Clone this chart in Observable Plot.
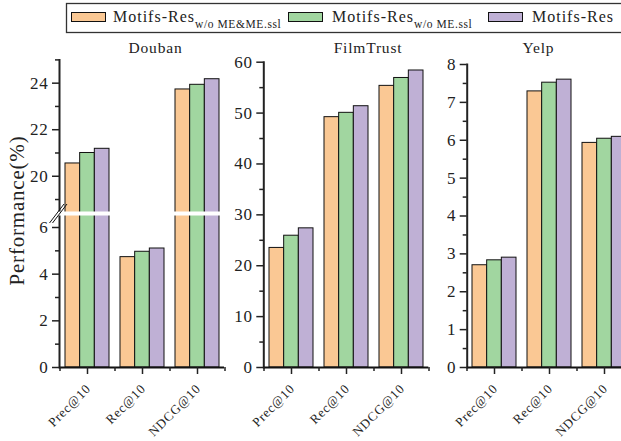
<!DOCTYPE html>
<html>
<head>
<meta charset="utf-8">
<script src="https://cdn.jsdelivr.net/npm/d3@7"></script>
<script src="https://cdn.jsdelivr.net/npm/@observablehq/plot@0.6"></script>
<style>
  body { margin: 0; background: #fff; }
  #root { position: relative; width: 621px; height: 441px; overflow: hidden; background: #fff; }
  #root svg.panel { position: absolute; left: 0; top: 36px; }
</style>
</head>
<body>
<div id="root"></div>
<script>
// ---------- data ----------
const metrics = ["Prec@10", "Rec@10", "NDCG@10"];
const seriesMain = ["Motifs-Res", "Motifs-Res", "Motifs-Res"];
const seriesSub = ["w/o ME&ME.ssl", "w/o ME.ssl", ""];
const seriesColors = ["#FAC894", "#A1D6A0", "#BFB0D5"];

const doubanNoMEME = [20.55, 4.73, 23.73];
const doubanNoME   = [21.00, 4.96, 23.93];
const doubanFull   = [21.18, 5.10, 24.17];

const filmNoMEME = [23.5, 49.2, 55.35];
const filmNoME   = [25.9, 50.05, 56.9];
const filmFull   = [27.35, 51.35, 58.37];

const yelpNoMEME = [2.70, 7.29, 5.93];
const yelpNoME   = [2.83, 7.52, 6.04];
const yelpFull   = [2.90, 7.60, 6.09];

const doubanMajor = [0, 2, 4, 6, 20, 22, 24];
const doubanMinor = [1, 3, 5, 19, 21, 23, 25];
const filmMajor = [0, 10, 20, 30, 40, 50, 60];
const filmMinor = [5, 15, 25, 35, 45, 55];
const yelpMajor = [0, 1, 2, 3, 4, 5, 6, 7, 8];
const yelpMinor = [0.5, 1.5, 2.5, 3.5, 4.5, 5.5, 6.5, 7.5];

const doubanBreak = [6.6, 18.4]; // axis break
const yLabel = "Performance(%)";

// ---------- layout ----------
const W = 621, H = 405, ZERO = 331;
const SERIF = "Liberation Serif, serif";

function panel(cfg) {
  const rows = [];
  cfg.values.forEach((arr, s) => arr.forEach((v, m) => rows.push({series: s, metric: metrics[m], value: v})));
  const pi = 0.2, po = 0.1;
  const step = (cfg.right - cfg.left) / (metrics.length - pi + 2 * po);
  const bw = step * (1 - pi);
  const marks = [];
  marks.push(Plot.frame({anchor: "left", stroke: "#222", strokeWidth: 2}));
  for (let s = 0; s < 3; s++) {
    marks.push(Plot.barY(rows.filter(r => r.series === s), {
      x: "metric", y: "value", fill: seriesColors[s], stroke: "#111", strokeWidth: 1,
      insetLeft: s * bw / 3, insetRight: (2 - s) * bw / 3
    }));
  }
  if (cfg.broken) {
    const mid = (doubanBreak[0] + doubanBreak[1]) / 2;
    marks.push(Plot.ruleY([mid], {stroke: "white", strokeWidth: 4, insetLeft: -4}));
    marks.push((index, scales, values, dims) => {
      const y = scales.y(mid), x = dims.marginLeft;
      const g = d3.create("svg:g").attr("stroke", "#111").attr("stroke-width", 1);
      for (const off of [0, 3]) {
        g.append("line").attr("x1", x - 9.5 + off).attr("y1", y + 10).attr("x2", x + 5 + off).attr("y2", y - 9);
      }
      return g.node();
    });
  }
  marks.push(Plot.ruleY([0], {stroke: "#111", strokeWidth: 2}));
  marks.push(Plot.axisY(cfg.major, {tickSize: 7, tickPadding: 4, fontSize: 17, fontFamily: SERIF, stroke: "#222", strokeWidth: 1.5, fill: "#222", tickFormat: d => String(d), label: null}));
  marks.push(Plot.axisY(cfg.minor, {tickSize: 4, stroke: "#222", strokeWidth: 1.5, tickFormat: () => "", label: null}));
  // x ticks (major at band centres, minor at band edges)
  marks.push(Plot.axisX({tickSize: 7, stroke: "#222", strokeWidth: 1.5, tickFormat: () => "", label: null}));
  marks.push(Plot.axisX(metrics, {dx: -step / 2, tickSize: 4, stroke: "#222", strokeWidth: 1.5, tickFormat: () => "", label: null}));
  marks.push(Plot.axisX([metrics[metrics.length - 1]], {dx: step / 2, tickSize: 4, stroke: "#222", strokeWidth: 1.5, tickFormat: () => "", label: null}));
  // x tick labels
  marks.push(Plot.axisX({tickSize: 0, tickPadding: 19, dx: 1, tickRotate: -45, fontSize: 13, fontFamily: SERIF, fill: "#222", label: null}));
  marks.push(Plot.text([cfg.title], {frameAnchor: "top", dx: cfg.titleCenter - (cfg.left + cfg.right) / 2, dy: cfg.titleBaseline - cfg.top, lineAnchor: "bottom", fontSize: 15.5, fontFamily: SERIF, fill: "#222"}));
  if (cfg.yLabel) {
    marks.push(Plot.text([cfg.yLabel], {frameAnchor: "bottom-left", rotate: -90, textAnchor: "start", lineAnchor: "bottom", dx: -36, dy: -82, fontSize: 21, fontFamily: SERIF, fill: "#222"}));
  }
  const svg = Plot.plot({
    width: W, height: H,
    marginLeft: cfg.left, marginRight: W - cfg.right, marginTop: cfg.top, marginBottom: H - ZERO,
    style: {background: "transparent", fontFamily: SERIF, letterSpacing: "0.8px"},
    x: {type: "band", domain: metrics, paddingInner: pi, paddingOuter: po},
    y: {type: "linear", domain: cfg.domain, range: cfg.range},
    marks
  });
  svg.classList.add("panel");
  return svg;
}

const root = document.getElementById("root");

// legend
const leg = d3.select(root).append("svg").attr("width", W).attr("height", 36)
  .style("position", "absolute").style("left", 0).style("top", 0);
leg.append("rect").attr("x", 66.5).attr("y", 3.5).attr("width", 600).attr("height", 29)
  .attr("fill", "none").attr("stroke", "#333").attr("stroke-width", 1.3);
const swX = [71, 288, 488], txX = [113, 332, 532];
for (let i = 0; i < 3; i++) {
  leg.append("rect").attr("x", swX[i] + 0.5).attr("y", 12.5).attr("width", 34).attr("height", 9)
    .attr("fill", seriesColors[i]).attr("stroke", "#111").attr("stroke-width", 1);
  const t = leg.append("text").attr("x", txX[i]).attr("y", 22).attr("font-family", SERIF)
    .attr("font-size", 16).attr("letter-spacing", "1px").attr("fill", "#222");
  t.append("tspan").text(seriesMain[i]);
  if (seriesSub[i]) t.append("tspan").attr("dy", 5.5).attr("font-size", 11.5).attr("letter-spacing", "0.6px").text(seriesSub[i]);
}

root.appendChild(panel({
  title: "Douban", titleCenter: 155, titleBaseline: 16.7,
  values: [doubanNoMEME, doubanNoME, doubanFull],
  left: 59, right: 224, top: 23.4,
  domain: [0, doubanBreak[0], doubanBreak[1], 25], range: [ZERO, 177, 177, 23.4],
  major: doubanMajor, minor: doubanMinor, broken: true, yLabel
}));
root.appendChild(panel({
  title: "FilmTrust", titleCenter: 367.5, titleBaseline: 16.7,
  values: [filmNoMEME, filmNoME, filmFull],
  left: 263.3, right: 428.3, top: 25.7,
  domain: [0, 60], range: [ZERO, 25.7],
  major: filmMajor, minor: filmMinor
}));
root.appendChild(panel({
  title: "Yelp", titleCenter: 538, titleBaseline: 16.7,
  values: [yelpNoMEME, yelpNoME, yelpFull],
  left: 466.7, right: 631.7, top: 28,
  domain: [0, 8], range: [ZERO, 28],
  major: yelpMajor, minor: yelpMinor
}));
</script>
</body>
</html>
